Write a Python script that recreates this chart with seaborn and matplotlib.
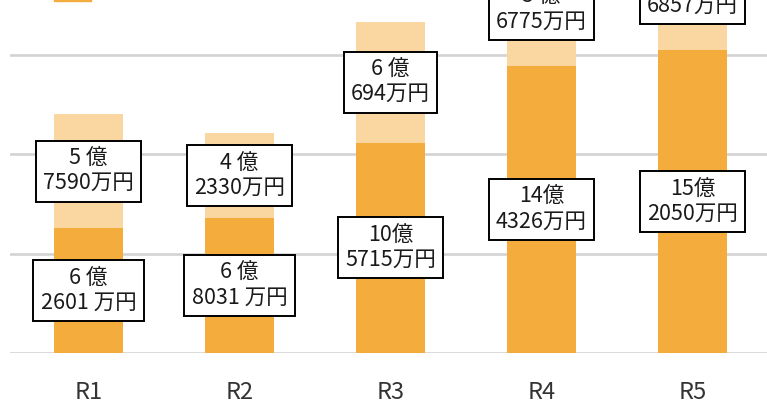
import pandas as pd
import matplotlib.pyplot as plt
import seaborn as sns
from matplotlib.patches import Patch

# values in 億円
categories = ["R1", "R2", "R3", "R4", "R5"]
lower = [6.2601, 6.8031, 10.5715, 14.4326, 15.2050]
upper = [5.7590, 4.2330, 6.0694, 5.6775, 5.6857]
lower_labels = ["6 億\n2601 万円", "6 億\n8031 万円", "10億\n5715万円", "14億\n4326万円", "15億\n2050万円"]
upper_labels = ["5 億\n7590万円", "4 億\n2330万円", "6 億\n694万円", "5 億\n6775万円", "5 億\n6857万円"]

dark = "#F4AD3D"
light = "#FAD7A0"

df = pd.DataFrame({"year": categories, "lower": lower, "upper": upper})
df["total"] = df["lower"] + df["upper"]

sns.set_style("white")
plt.rcParams["font.family"] = ["Noto Sans CJK JP", "DejaVu Sans"]

fig = plt.figure(figsize=(7.67, 4.03), dpi=100)
ax = fig.add_axes([10 / 767, 50 / 403, 761 / 767, 353 / 403])

# stacked bars: total in light, lower part drawn over it
sns.barplot(data=df, x="year", y="total", color=light, width=0.457,
            saturation=1, linewidth=0, ax=ax)
sns.barplot(data=df, x="year", y="lower", color=dark, width=0.457,
            saturation=1, linewidth=0, ax=ax)

box = dict(boxstyle="square,pad=0.35", fc="white", ec="black", lw=1.4)
for i in range(len(categories)):
    ax.text(i, lower[i] / 2, lower_labels[i], ha="center", va="center",
            fontsize=15.5, linespacing=1.12, color="#1a1a1a", bbox=box)
    ax.text(i, lower[i] + upper[i] / 2, upper_labels[i], ha="center",
            va="center", fontsize=15.5, linespacing=1.12, color="#1a1a1a",
            bbox=box)

ax.set_xlim(-0.52, 4.52)
ax.set_ylim(0, 17.74)
ax.set_yticks([0, 5, 10, 15])
ax.set_yticklabels([])
ax.yaxis.grid(True, color="#D3D3D3", lw=1.9)
ax.set_axisbelow(True)
ax.tick_params(axis="x", length=0, pad=20, labelsize=17, labelcolor="#333333")
ax.tick_params(axis="y", length=0)
ax.set_xlabel("")
ax.set_ylabel("")
sns.despine(ax=ax, left=True, bottom=True)

# legend sits almost entirely above the visible area
fig.legend(handles=[Patch(color=dark, label=" ")],
           loc="lower left", bbox_to_anchor=(54 / 767, 1 - 5 / 403),
           frameon=False, borderpad=0, borderaxespad=0,
           handlelength=2.4, fontsize=11)

fig.savefig("out.png", dpi=100)
